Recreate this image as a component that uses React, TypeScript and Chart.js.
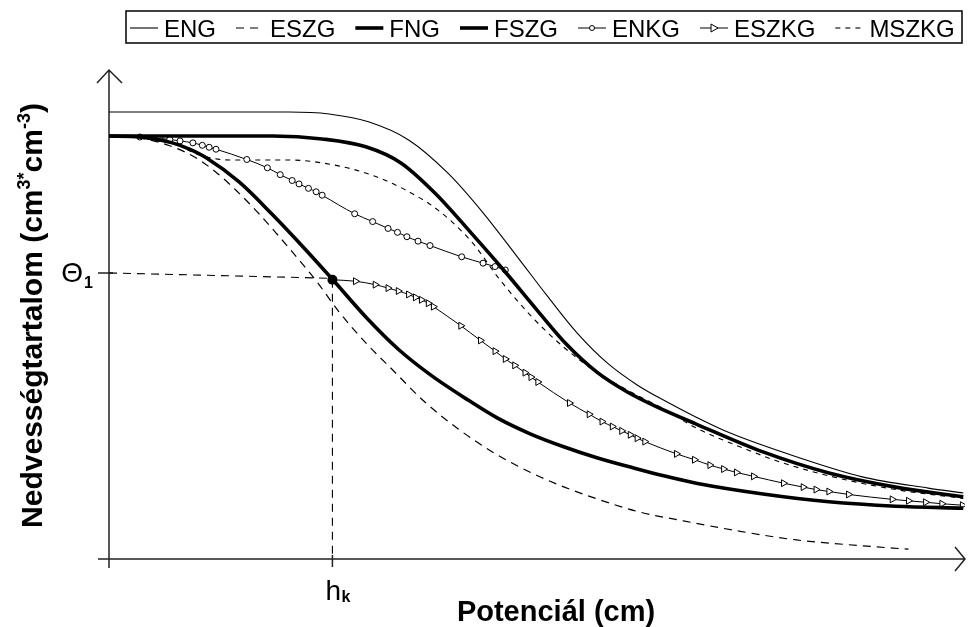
import React, { useEffect, useRef } from 'react';
import { Chart, registerables } from 'chart.js';

Chart.register(...registerables);

// ---- axis domain (schematic units) ----
const X_MIN = 0;
const X_MAX = 100;
const Y_MIN = 0;
const Y_MAX = 100;

// special ticks
const HK = 26.1;          // h_k on the potential axis
const THETA1 = 58.5;      // Θ1 on the moisture axis
const KNEE_Y = 57.1;      // moisture value of the marked point at h_k

const SERIES_LABELS = ['ENG', 'ESZG', 'FNG', 'FSZG', 'ENKG', 'ESZKG', 'MSZKG'];

// ENG
const engX = [0, 10.6, 21.0, 25.7, 30.3, 35.0, 39.6, 43.7, 47.7, 51.2, 54.7, 58.2, 61.7, 65.2, 68.6, 72.5, 80.3, 88.0, 95.7, 99.8];
const engY = [91.4, 91.4, 91.4, 91.0, 89.4, 85.7, 78.9, 70.8, 61.8, 53.8, 46.2, 40.1, 35.6, 32.1, 29.0, 25.8, 20.9, 16.8, 14.5, 13.5];

// ESZG
const eszgX = [0, 3.6, 7.1, 10.0, 12.5, 14.9, 17.2, 19.5, 21.8, 24.2, 26.8, 30.0, 33.0, 36.9, 40.8, 44.6, 48.9, 53.2, 57.0, 62.0, 67.1, 73.6, 80.3, 88.0, 93.4];
const eszgY = [86.5, 86.1, 84.5, 82.2, 79.1, 75.3, 71.2, 66.7, 62.0, 56.9, 50.7, 44.2, 38.9, 32.1, 26.6, 22.1, 18.0, 14.7, 12.3, 9.6, 7.8, 5.7, 3.9, 2.7, 2.0];

// FNG
const fngX = [0, 10.6, 19.1, 24.9, 30.0, 34.1, 38.1, 42.3, 46.2, 50.1, 53.5, 57.0, 60.5, 64.0, 68.6, 76.4, 84.1, 91.9, 99.8];
const fngY = [86.5, 86.5, 86.5, 85.9, 84.3, 81.0, 74.8, 66.7, 58.9, 50.7, 43.8, 38.2, 34.2, 31.1, 27.6, 21.9, 17.6, 14.7, 12.7];

// FSZG
const fszgX = [0, 3.6, 7.4, 9.4, 11.4, 15.2, 19.0, 23.0, 26.1, 30.0, 33.8, 37.6, 41.6, 45.4, 49.2, 53.2, 57.0, 60.9, 64.8, 68.6, 76.4, 84.1, 91.9, 99.8];
const fszgY = [86.5, 86.3, 85.1, 83.8, 82.0, 77.1, 70.6, 63.2, 57.2, 49.5, 42.9, 37.6, 32.9, 28.8, 25.6, 22.9, 20.7, 18.8, 17.0, 15.5, 13.3, 11.7, 10.8, 10.4];

// ENKG
const enkgX = [0, 3.6, 5.9, 7.1, 8.3, 9.8, 10.9, 11.7, 12.5, 16.1, 18.5, 20.0, 21.4, 22.2, 23.3, 24.2, 24.9, 28.7, 30.8, 32.6, 33.7, 34.8, 36.1, 37.5, 41.2, 43.7, 45.1, 46.3];
const enkgY = [86.5, 86.3, 86.0, 85.8, 85.5, 85.1, 84.6, 84.2, 83.8, 81.7, 80.0, 78.6, 77.4, 76.7, 75.8, 75.1, 74.4, 70.6, 69.0, 67.6, 66.8, 65.9, 65.0, 64.1, 61.8, 60.5, 59.8, 59.1];

// ESZKG
const eszkgX = [26.1, 28.8, 31.1, 32.6, 33.8, 35.0, 35.8, 36.5, 37.3, 37.9, 41.1, 43.4, 45.1, 46.3, 47.4, 48.6, 49.3, 50.1, 53.8, 56.1, 57.6, 58.8, 59.9, 60.9, 61.7, 62.6, 66.3, 68.4, 70.2, 71.8, 73.3, 75.3, 78.8, 81.1, 82.6, 84.1, 86.4, 91.5, 93.4, 95.4, 97.3, 99.7];
const eszkgY = [57.1, 56.8, 56.1, 55.4, 54.8, 54.1, 53.5, 53.0, 52.3, 51.6, 47.7, 44.7, 42.5, 40.9, 39.6, 38.1, 37.2, 36.2, 31.9, 29.6, 28.1, 27.1, 26.2, 25.4, 24.7, 24.0, 21.5, 20.3, 19.2, 18.4, 17.7, 16.9, 15.5, 14.7, 14.2, 13.8, 13.2, 12.2, 11.9, 11.6, 11.3, 11.0];

// MSZKG
const mszkgX = [0, 3.6, 7.4, 10.6, 14.1, 21.0, 26.8, 30.7, 34.6, 38.4, 42.5, 45.4, 49.3, 53.2, 57.0, 60.9, 64.8, 68.6, 74.5, 78.3, 84.1, 91.9, 99.8];
const mszkgY = [86.5, 86.3, 85.1, 82.6, 81.6, 81.6, 80.4, 78.5, 75.5, 71.4, 64.6, 57.7, 49.7, 43.2, 38.2, 34.2, 30.7, 26.8, 22.4, 19.9, 17.0, 14.2, 12.4];

const FONT = "'Liberation Sans', Arial, Helvetica, sans-serif";

const pts = (xs: number[], ys: number[]) => xs.map((x, i) => ({ x, y: ys[i] }));

const axesPlugin = {
  id: 'axesDeco',
  beforeDatasetsDraw(chart: any) {
    const { ctx, scales } = chart;
    const xs = scales.x;
    const ys = scales.y;
    const x0 = xs.getPixelForValue(X_MIN);
    const y0 = ys.getPixelForValue(Y_MIN);
    const xEnd = xs.getPixelForValue(X_MAX);
    const yEnd = ys.getPixelForValue(Y_MAX);
    ctx.save();
    ctx.strokeStyle = '#222';
    ctx.lineWidth = 1.5;
    ctx.setLineDash([]);
    ctx.beginPath();
    // y axis with arrow
    ctx.moveTo(x0, y0 + 9);
    ctx.lineTo(x0, yEnd);
    ctx.moveTo(x0 - 12, yEnd + 13);
    ctx.lineTo(x0, yEnd);
    ctx.lineTo(x0 + 13, yEnd + 13);
    // x axis with arrow
    ctx.moveTo(x0 - 11, y0);
    ctx.lineTo(xEnd, y0);
    ctx.moveTo(xEnd - 10, y0 - 12);
    ctx.lineTo(xEnd, y0);
    ctx.lineTo(xEnd - 10, y0 + 12);
    // ticks
    const ty = ys.getPixelForValue(THETA1);
    ctx.moveTo(x0 - 11, ty);
    ctx.lineTo(x0 + 4, ty);
    const hx = xs.getPixelForValue(HK);
    ctx.moveTo(hx, y0 - 4);
    ctx.lineTo(hx, y0 + 8);
    ctx.stroke();
    ctx.restore();
  },
  afterDraw(chart: any) {
    const { ctx, scales } = chart;
    const xs = scales.x;
    const ys = scales.y;
    const x0 = xs.getPixelForValue(X_MIN);
    const y0 = ys.getPixelForValue(Y_MIN);
    const yEnd = ys.getPixelForValue(Y_MAX);
    ctx.save();
    ctx.fillStyle = '#000';
    ctx.textBaseline = 'alphabetic';

    // Θ1 tick label
    const ty = ys.getPixelForValue(THETA1);
    ctx.font = `28px ${FONT}`;
    ctx.textAlign = 'right';
    ctx.fillText('Θ', x0 - 26, ty + 9);
    ctx.font = `bold 16px ${FONT}`;
    ctx.textAlign = 'left';
    ctx.fillText('1', x0 - 25, ty + 15);

    // h_k tick label
    const hx = xs.getPixelForValue(HK);
    ctx.font = `28px ${FONT}`;
    ctx.textAlign = 'left';
    ctx.fillText('h', hx - 7, y0 + 41);
    ctx.font = `bold 16px ${FONT}`;
    ctx.fillText('k', hx + 9, y0 + 43);

    // x axis title
    ctx.font = `bold 29px ${FONT}`;
    ctx.textAlign = 'center';
    ctx.fillText('Potenciál (cm)', 556, y0 + 62);

    // y axis title (rotated, with superscripts)
    const parts: { t: string; sup: boolean }[] = [
      { t: 'Nedvességtartalom (cm', sup: false },
      { t: '3', sup: true },
      { t: '*', sup: true },
      { t: 'cm', sup: false },
      { t: '-3', sup: true },
      { t: ')', sup: false },
    ];
    const big = `bold 30px ${FONT}`;
    const small = `bold 18px ${FONT}`;
    let total = 0;
    for (const p of parts) {
      ctx.font = p.sup ? small : big;
      total += ctx.measureText(p.t).width;
    }
    const cy = (y0 + yEnd) / 2 + 1;
    ctx.translate(42, cy);
    ctx.rotate(-Math.PI / 2);
    ctx.textAlign = 'left';
    let cx = -total / 2;
    for (const p of parts) {
      ctx.font = p.sup ? small : big;
      ctx.fillText(p.t, cx, p.sup ? -12 : 0);
      cx += ctx.measureText(p.t).width;
    }
    ctx.restore();

    // legend
    drawLegend(chart);
  },
};

function drawLegend(chart: any) {
  const { ctx } = chart;
  const boxL = 126;
  const boxR = 962;
  const boxT = 11;
  const boxB = 43;
  const midY = 28;
  const symW = 28;
  const symGap = 6;
  const itemGap = 20;
  ctx.save();
  ctx.strokeStyle = '#000';
  ctx.lineWidth = 1.5;
  ctx.setLineDash([]);
  ctx.strokeRect(boxL, boxT, boxR - boxL, boxB - boxT);
  ctx.font = `24px ${FONT}`;
  ctx.textBaseline = 'alphabetic';
  ctx.textAlign = 'left';
  let x = 130;
  const items = chart.data.datasets.filter((d: any) => SERIES_LABELS.includes(d.label));
  for (const d of items) {
    ctx.save();
    ctx.strokeStyle = '#000';
    ctx.lineWidth = d.borderWidth;
    ctx.setLineDash(d.borderDash || []);
    ctx.beginPath();
    ctx.moveTo(x, midY);
    ctx.lineTo(x + symW, midY);
    ctx.stroke();
    ctx.setLineDash([]);
    if (d.legendMarker === 'circle') {
      ctx.lineWidth = 1;
      ctx.fillStyle = '#fff';
      ctx.beginPath();
      ctx.arc(x + symW / 2, midY, 2.5, 0, Math.PI * 2);
      ctx.fill();
      ctx.stroke();
    } else if (d.legendMarker === 'triangle') {
      ctx.lineWidth = 1;
      ctx.fillStyle = '#fff';
      const cx = x + symW / 2;
      ctx.beginPath();
      ctx.moveTo(cx - 3, midY - 4);
      ctx.lineTo(cx + 4, midY);
      ctx.lineTo(cx - 3, midY + 4);
      ctx.closePath();
      ctx.fill();
      ctx.stroke();
    }
    ctx.restore();
    ctx.fillStyle = '#000';
    ctx.fillText(d.label, x + symW + symGap, 37);
    x += symW + symGap + ctx.measureText(d.label).width + itemGap;
  }
  ctx.restore();
}

export default function App() {
  const canvasRef = useRef<HTMLCanvasElement | null>(null);

  useEffect(() => {
    const canvas = canvasRef.current;
    if (!canvas) return;
    const thin = { borderColor: '#000', backgroundColor: '#000', fill: false, pointRadius: 0, cubicInterpolationMode: 'monotone' as const };
    const datasets: any[] = [
      { ...thin, label: 'ENG', data: pts(engX, engY), borderWidth: 1.1 },
      { ...thin, label: 'ESZG', data: pts(eszgX, eszgY), borderWidth: 1.2, borderDash: [8, 6] },
      { ...thin, label: 'FNG', data: pts(fngX, fngY), borderWidth: 3.6 },
      { ...thin, label: 'FSZG', data: pts(fszgX, fszgY), borderWidth: 3.6 },
      {
        ...thin, label: 'ENKG', data: pts(enkgX, enkgY), borderWidth: 1, legendMarker: 'circle',
        pointRadius: enkgX.map((_, i) => (i === 0 ? 0 : 3)), pointStyle: 'circle',
        pointBackgroundColor: '#fff', pointBorderColor: '#000', pointBorderWidth: 1,
      },
      {
        ...thin, label: 'ESZKG', data: pts(eszkgX, eszkgY), borderWidth: 1, legendMarker: 'triangle',
        pointRadius: eszkgX.map((_, i) => (i === 0 ? 0 : 4)), pointStyle: 'triangle', pointRotation: 90,
        pointBackgroundColor: '#fff', pointBorderColor: '#000', pointBorderWidth: 1,
      },
      { ...thin, label: 'MSZKG', data: pts(mszkgX, mszkgY), borderWidth: 1.1, borderDash: [5, 5] },
      // guide lines to Θ1 and h_k
      { ...thin, label: 'guideH', data: [{ x: X_MIN, y: THETA1 }, { x: HK, y: KNEE_Y + 0.3 }], borderWidth: 1.1, borderDash: [8, 6], cubicInterpolationMode: 'default', tension: 0 },
      { ...thin, label: 'guideV', data: [{ x: HK, y: KNEE_Y }, { x: HK, y: Y_MIN }], borderWidth: 1.1, borderDash: [8, 6], cubicInterpolationMode: 'default', tension: 0 },
      // marked point
      { label: 'knee', data: [{ x: HK, y: KNEE_Y }], showLine: false, pointRadius: 5, pointBackgroundColor: '#000', pointBorderColor: '#000', borderColor: '#000', backgroundColor: '#000', borderWidth: 0 },
    ];
    const chart = new Chart(canvas, {
      type: 'line',
      data: { datasets },
      options: {
        responsive: false,
        animation: false,
        devicePixelRatio: 1,
        layout: { padding: { left: 109, right: 1, top: 70, bottom: 68 } },
        scales: {
          x: { type: 'linear', min: X_MIN, max: X_MAX, display: false },
          y: { type: 'linear', min: Y_MIN, max: Y_MAX, display: false },
        },
        plugins: { legend: { display: false }, tooltip: { enabled: false } },
        elements: { line: { borderCapStyle: 'butt' } },
      },
      plugins: [axesPlugin],
    } as any);
    return () => chart.destroy();
  }, []);

  return (
    <div style={{ position: 'absolute', left: 0, top: 0, width: 970, height: 627, background: '#fff' }}>
      <canvas ref={canvasRef} width={970} height={627} style={{ display: 'block', width: 970, height: 627 }} />
    </div>
  );
}
